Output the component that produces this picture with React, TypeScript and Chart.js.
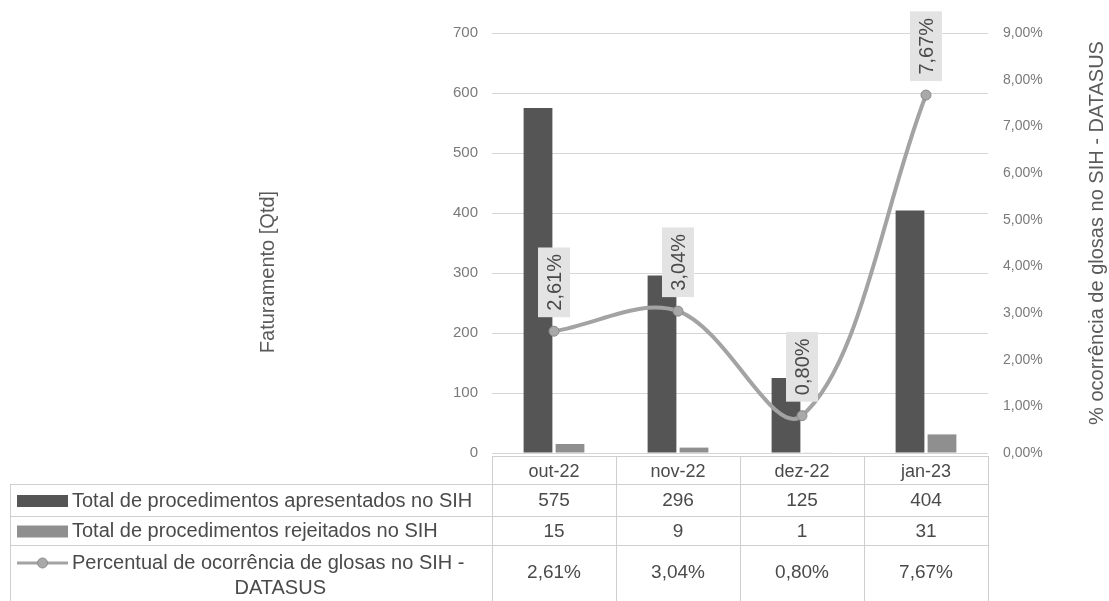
import React, { useEffect, useRef } from 'react';
import { Chart, registerables } from 'chart.js';

Chart.register(...registerables);

// ---- Data ----
const categories = ['out-22', 'nov-22', 'dez-22', 'jan-23'];
const apresentados = [575, 296, 125, 404];
const rejeitados = [15, 9, 1, 31];
const percentual = [2.61, 3.04, 0.8, 7.67];
const seriesLabels = [
  'Total de procedimentos apresentados no SIH',
  'Total de procedimentos rejeitados no SIH',
  'Percentual de ocorrência de glosas no SIH - DATASUS',
];
const leftAxisTitle = 'Faturamento [Qtd]';
const rightAxisTitle = '% ocorrência de glosas no SIH - DATASUS';
const leftAxisMax = 700;
const leftAxisStep = 100;
const rightAxisMax = 9;
const rightAxisStep = 1;

// ---- Styles ----
const FONT = '"Liberation Sans", Arial, sans-serif';
const font = (size: number) => `${size}px ${FONT}`;
const DARK = '#555555';
const LIGHT = '#8f8f8f';
const LINE = '#a3a3a3';
const TEXT = '#4a4a4a';
const AXIS_TEXT = '#7a7a7a';
const TABLE_LINE = '#cfcfcf';

const fmtPct = (v: number) => v.toFixed(2).replace('.', ',') + '%';

const overlayPlugin = {
  id: 'overlay',
  afterDatasetsDraw(chart: any) {
    const ctx: CanvasRenderingContext2D = chart.ctx;
    const lineIdx = chart.data.datasets.findIndex((d: any) => d.type === 'line');
    const meta = chart.getDatasetMeta(lineIdx);
    ctx.save();
    ctx.font = font(20);
    meta.data.forEach((pt: any, i: number) => {
      const text = fmtPct(chart.data.datasets[lineIdx].data[i]);
      const tw = ctx.measureText(text).width;
      const boxH = tw + 13;
      const boxW = 32;
      const gap = 14;
      const cx = pt.x;
      const cy = pt.y - gap - boxH / 2;
      ctx.fillStyle = '#e3e3e3';
      ctx.fillRect(cx - boxW / 2, cy - boxH / 2, boxW, boxH);
      ctx.save();
      ctx.translate(cx, cy);
      ctx.rotate(-Math.PI / 2);
      ctx.fillStyle = TEXT;
      ctx.textAlign = 'center';
      ctx.textBaseline = 'middle';
      ctx.fillText(text, 0, 1);
      ctx.restore();
    });
    ctx.restore();
  },
  afterDraw(chart: any) {
    const ctx: CanvasRenderingContext2D = chart.ctx;
    const ca = chart.chartArea;
    const xs = chart.scales.x;
    const step = xs.getPixelForValue(1) - xs.getPixelForValue(0);
    const colLeft = (i: number) => xs.getPixelForValue(0) - step / 2 + i * step;
    const W = chart.width;
    const H = chart.height;

    ctx.save();
    // axis titles
    ctx.fillStyle = '#5a5a5a';
    ctx.font = font(20);
    ctx.textAlign = 'center';
    ctx.textBaseline = 'middle';
    ctx.save();
    ctx.translate(ca.left - 224, (ca.top + ca.bottom) / 2 + 29);
    ctx.rotate(-Math.PI / 2);
    ctx.fillText(leftAxisTitle, 0, 0);
    ctx.restore();
    ctx.save();
    ctx.translate(W - 12, (ca.top + ca.bottom) / 2 - 10);
    ctx.rotate(-Math.PI / 2);
    ctx.fillText(rightAxisTitle, 0, 0);
    ctx.restore();

    // data table
    const legendLeft = 10;
    const headTop = ca.bottom + 3;
    const headBottom = ca.bottom + 31;
    const row1Bottom = ca.bottom + 63;
    const row2Bottom = ca.bottom + 92;
    const n = categories.length;

    ctx.strokeStyle = TABLE_LINE;
    ctx.lineWidth = 1;
    const hline = (x1: number, x2: number, y: number) => {
      ctx.beginPath();
      ctx.moveTo(x1, Math.round(y) + 0.5);
      ctx.lineTo(x2, Math.round(y) + 0.5);
      ctx.stroke();
    };
    const vline = (x: number, y1: number, y2: number) => {
      ctx.beginPath();
      ctx.moveTo(Math.round(x) + 0.5, y1);
      ctx.lineTo(Math.round(x) + 0.5, y2);
      ctx.stroke();
    };
    hline(colLeft(0), colLeft(n), headTop);
    hline(legendLeft, colLeft(n), headBottom);
    hline(legendLeft, colLeft(n), row1Bottom);
    hline(legendLeft, colLeft(n), row2Bottom);
    vline(legendLeft, headBottom, H);
    for (let i = 0; i <= n; i++) vline(colLeft(i), headTop, H);

    // header + values
    ctx.fillStyle = TEXT;
    ctx.textAlign = 'center';
    ctx.textBaseline = 'middle';
    const r1 = (headBottom + row1Bottom) / 2 + 1;
    const r2 = (row1Bottom + row2Bottom) / 2 + 1;
    const r3 = row2Bottom + 28;
    categories.forEach((c, i) => {
      const cx = xs.getPixelForValue(i);
      ctx.font = font(18);
      ctx.fillText(c, cx, (headTop + headBottom) / 2 + 2);
      ctx.font = font(19);
      ctx.fillText(String(apresentados[i]), cx, r1);
      ctx.fillText(String(rejeitados[i]), cx, r2);
      ctx.fillText(fmtPct(percentual[i]), cx, r3);
    });

    // legend column
    const swX = 17;
    const swW = 51;
    ctx.fillStyle = DARK;
    ctx.fillRect(swX, r1 - 6, swW, 12);
    ctx.fillStyle = LIGHT;
    ctx.fillRect(swX, r2 - 6, swW, 12);
    const l3y = row2Bottom + 18;
    ctx.strokeStyle = LINE;
    ctx.lineWidth = 3;
    ctx.beginPath();
    ctx.moveTo(swX, l3y);
    ctx.lineTo(swX + swW, l3y);
    ctx.stroke();
    ctx.fillStyle = '#a8a8a8';
    ctx.strokeStyle = '#8a8a8a';
    ctx.lineWidth = 1;
    ctx.beginPath();
    ctx.arc(swX + swW / 2, l3y, 5, 0, Math.PI * 2);
    ctx.fill();
    ctx.stroke();

    ctx.fillStyle = TEXT;
    ctx.font = font(20);
    ctx.textAlign = 'left';
    const textX = 72;
    ctx.fillText(seriesLabels[0], textX, r1);
    ctx.fillText(seriesLabels[1], textX, r2);
    const p = seriesLabels[2];
    const cut = p.lastIndexOf(' ');
    const line1 = p.slice(0, cut);
    const line2 = p.slice(cut + 1);
    ctx.fillText(line1, textX, l3y);
    const w1 = ctx.measureText(line1).width;
    ctx.textAlign = 'center';
    ctx.fillText(line2, textX + w1 / 2 + 12, l3y + 25);
    ctx.restore();
  },
};

export default function App() {
  const canvasRef = useRef<HTMLCanvasElement | null>(null);

  useEffect(() => {
    const canvas = canvasRef.current;
    if (!canvas) return;
    const chart = new Chart(canvas, {
      type: 'bar',
      data: {
        labels: categories,
        datasets: [
          {
            type: 'bar',
            label: seriesLabels[0],
            data: apresentados,
            backgroundColor: DARK,
            yAxisID: 'y',
            categoryPercentage: 0.516,
            barPercentage: 0.9,
            order: 1,
          },
          {
            type: 'bar',
            label: seriesLabels[1],
            data: rejeitados,
            backgroundColor: LIGHT,
            yAxisID: 'y',
            categoryPercentage: 0.516,
            barPercentage: 0.9,
            order: 1,
          },
          {
            type: 'line',
            label: seriesLabels[2],
            data: percentual,
            yAxisID: 'y1',
            borderColor: LINE,
            borderWidth: 4,
            tension: 0.35,
            pointRadius: 5,
            pointBackgroundColor: '#a8a8a8',
            pointBorderColor: '#8a8a8a',
            pointBorderWidth: 1,
            order: 0,
          },
        ],
      } as any,
      options: {
        responsive: true,
        maintainAspectRatio: false,
        animation: false,
        layout: { padding: { left: 0, right: 0, top: 33, bottom: 148 } },
        plugins: {
          legend: { display: false },
          tooltip: { enabled: false },
        },
        scales: {
          x: { display: false, offset: true },
          y: {
            position: 'left',
            min: 0,
            max: leftAxisMax,
            ticks: { stepSize: leftAxisStep, padding: 14, color: AXIS_TEXT, font: { family: FONT, size: 15 } },
            grid: { color: '#d6d6d6', drawTicks: false },
            border: { display: false },
            afterFit: (s: any) => {
              s.width = 492;
            },
          },
          y1: {
            position: 'right',
            min: 0,
            max: rightAxisMax,
            ticks: {
              stepSize: rightAxisStep,
              padding: 15,
              color: AXIS_TEXT,
              font: { family: FONT, size: 14 },
              callback: (v: any) => fmtPct(Number(v)),
            },
            grid: { display: false, drawTicks: false },
            border: { display: false },
            afterFit: (s: any) => {
              s.width = 121;
            },
          },
        },
      } as any,
      plugins: [overlayPlugin],
    });
    return () => chart.destroy();
  }, []);

  return (
    <div style={{ position: 'fixed', left: 0, top: 0, width: 1109, height: 601, background: '#fff' }}>
      <canvas ref={canvasRef} />
    </div>
  );
}
